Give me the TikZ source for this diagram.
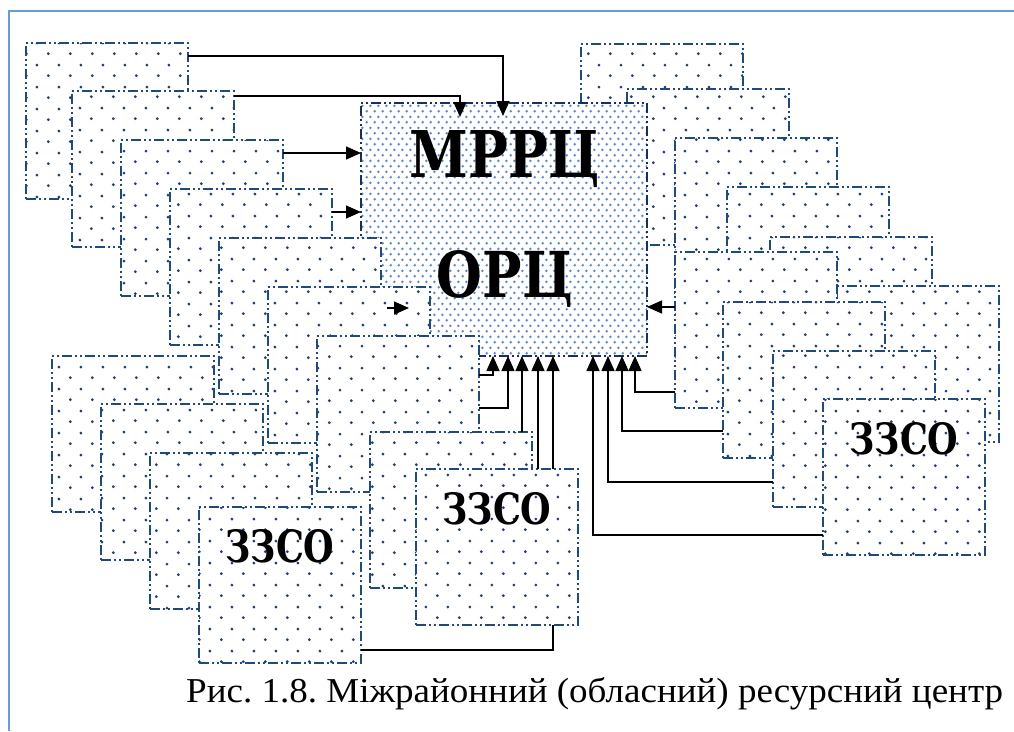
\documentclass[tikz,border=0pt]{standalone}
\usepackage{graphicx}
\usepackage{fontspec}
\setmainfont{Liberation Serif}
\newfontfamily\lblfont{DejaVu Serif}
\usetikzlibrary{patterns,arrows.meta}

\definecolor{bordblue}{HTML}{204A78}
\definecolor{dotblue}{HTML}{233F70}
\definecolor{lightdot}{HTML}{5F88CC}
\definecolor{mainbord}{HTML}{17305F}
\definecolor{framecol}{HTML}{6C9AD6}

\pgfdeclarepatternformonly{sparsedots}{\pgfpointorigin}{\pgfpoint{21.6pt}{21.6pt}}{\pgfpoint{21.6pt}{21.6pt}}{%
  \pgfpathcircle{\pgfpoint{5.4pt}{5.4pt}}{1.55pt}%
  \pgfpathcircle{\pgfpoint{16.2pt}{16.2pt}}{1.55pt}%
  \pgfusepath{fill}}
\pgfdeclarepatternformonly{densedots}{\pgfpointorigin}{\pgfpoint{7.6pt}{11.4pt}}{\pgfpoint{7.6pt}{11.4pt}}{%
  \pgfpathcircle{\pgfpoint{1.9pt}{2.85pt}}{1.45pt}%
  \pgfpathcircle{\pgfpoint{5.7pt}{8.55pt}}{1.45pt}%
  \pgfusepath{fill}}

\tikzset{
  card/.style={rectangle, anchor=north west, inner sep=0pt, outer sep=0pt,
    minimum width=162pt, minimum height=156pt, draw=bordblue, line width=1.8pt,
    dash pattern=on 10pt off 3pt on 2pt off 3pt on 2pt off 3pt,
    preaction={fill=white}, pattern=sparsedots, pattern color=dotblue},
  mainbox/.style={rectangle, anchor=north west, inner sep=0pt, outer sep=0pt,
    minimum width=286pt, minimum height=253pt, draw=mainbord, line width=1.9pt,
    dash pattern=on 10pt off 3pt on 2pt off 3pt on 2pt off 3pt,
    preaction={fill=white}, pattern=densedots, pattern color=lightdot},
  arr/.style={draw=black, line width=1.4pt, -{Triangle[length=15pt,width=13pt]}},
  plain/.style={draw=black, line width=1.4pt},
  bigtext/.style={anchor=base, inner sep=0pt, text=black},
  zlabel/.style={anchor=base, inner sep=0pt, text=black},
}

\begin{document}
\frenchspacing
\begin{tikzpicture}[x=1pt,y=-1pt]
\useasboundingbox (0,0) rectangle (1014,731);
\fill[white] (0,0) rectangle (1014,731);

% frame
\draw[framecol, line width=2pt] (9,731) -- (9,10.5) -- (1014,10.5);

% right upper chain
\node[card] (R1) at (581,44) {};
\node[card] (R2) at (627,89) {};
\node[card] (R3) at (675,138) {};
\node[card] (R4) at (727,187) {};
\node[card] (R5) at (770,237) {};
\node[card] (R6) at (837,286) {};
% right lower chain
\node[card] (S1) at (675,252) {};
\node[card] (S2) at (723,302) {};
\node[card] (S3) at (773,351) {};
\node[card] (Z3) at (823,399) {};

% main box
\node[mainbox] (Main) at (361,103) {};

% left upper chain
\node[card] (L1) at (26,43) {};
\node[card] (L2) at (72,91) {};
\node[card] (L3) at (121,140) {};
\node[card] (L4) at (170,189) {};
\node[card] (L5) at (219,238) {};
\node[card] (L6) at (268,287) {};
\node[card] (L7) at (317,336) {};
\node[card] (M8) at (370,432) {};
\node[card] (Z2) at (416,469) {};
% left lower chain
\node[card] (B1) at (52,356) {};
\node[card] (B2) at (101,404) {};
\node[card] (B3) at (150,453) {};
\node[card] (Z1) at (199,507) {};

% texts
\node[bigtext] (tM) at (505,177) {\resizebox{190pt}{47pt}{\lblfont\bfseries МРРЦ}};
\node[bigtext] (tO) at (505,297) {\resizebox{136pt}{47pt}{\lblfont\bfseries ОРЦ}};
\node[zlabel] (tZ1) at ([yshift=-55pt]Z1.north) {\resizebox{109pt}{33pt}{\lblfont\bfseries ЗЗСО}};
\node[zlabel] (tZ2) at ([yshift=-55pt]Z2.north) {\resizebox{109pt}{32pt}{\lblfont\bfseries ЗЗСО}};
\node[zlabel] (tZ3) at ([yshift=-55pt]Z3.north) {\resizebox{109pt}{32pt}{\lblfont\bfseries ЗЗСО}};

% connectors
\coordinate (a1) at ([yshift=-13pt]L1.north east);
\coordinate (b1) at ([xshift=142pt,yshift=-13pt]Main.north west);
\draw[arr] (a1) -| (b1);
\coordinate (a2) at ([yshift=-5pt]L2.north east);
\coordinate (b2) at ([xshift=99pt,yshift=-14pt]Main.north west);
\draw[arr] (a2) -| (b2);
\coordinate (a3) at ([yshift=-13pt]L3.north east);
\draw[arr] (a3) -- (a3 -| Main.west);
\coordinate (a4) at ([yshift=-23pt]L4.north east);
\draw[arr] (a4) -- (a4 -| Main.west);
\coordinate (a5) at ([xshift=26pt,yshift=-205pt]Main.north west);
\coordinate (b5) at ([xshift=48pt,yshift=-205pt]Main.north west);
\draw[arr] (a5) -- (b5);

\coordinate (a6) at ([yshift=-39pt]L7.north east);
\coordinate (b6) at ([xshift=132pt]Main.south west);
\draw[arr] (a6) -| (b6);
\coordinate (a7) at ([yshift=-72pt]L7.north east);
\coordinate (b7) at ([xshift=147pt]Main.south west);
\draw[arr] (a7) -| (b7);
\coordinate (a8) at ([xshift=152pt]M8.north west);
\draw[arr] (a8) -- (a8 |- Main.south);
\coordinate (a9) at ([xshift=122pt]Z2.north west);
\draw[arr] (a9) -- (a9 |- Main.south);
\coordinate (a10) at ([xshift=137pt]Z2.north west);
\draw[arr] (a10) -- (a10 |- Main.south);

\coordinate (a11) at ([yshift=-136pt]Z3.north west);
\coordinate (b11) at ([xshift=232pt]Main.south west);
\draw[arr] (a11) -| (b11);
\coordinate (a12) at ([yshift=-131pt]S3.north west);
\coordinate (b12) at ([xshift=247pt]Main.south west);
\draw[arr] (a12) -| (b12);
\coordinate (a13) at ([yshift=-129pt]S2.north west);
\coordinate (b13) at ([xshift=261pt]Main.south west);
\draw[arr] (a13) -| (b13);
\coordinate (a14) at ([yshift=-140pt]S1.north west);
\coordinate (b14) at ([xshift=274pt]Main.south west);
\draw[arr] (a14) -| (b14);
\coordinate (a15) at ([yshift=-55pt]S1.north west);
\draw[arr] (a15) -- (a15 -| Main.east);

\coordinate (a16) at ([yshift=-143pt]Z1.north east);
\coordinate (b16) at ([xshift=137pt]Z2.south west);
\draw[plain] (a16) -| (b16);

% caption
\node[anchor=base west, inner sep=0pt] (cap) at (186,702) {\resizebox{817pt}{25pt}{\fontsize{34pt}{40pt}\selectfont Рис. 1.8. Міжрайонний (обласний) ресурсний центр}};
\end{tikzpicture}
\end{document}
